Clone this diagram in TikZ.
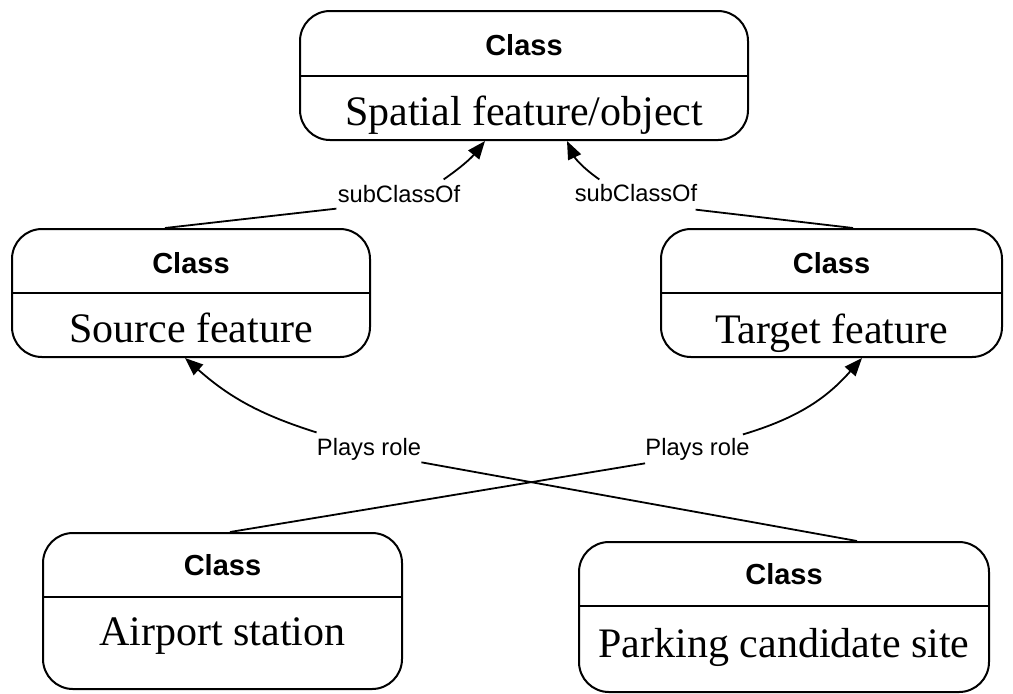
\documentclass[tikz,border=0pt]{standalone}
\usepackage{fontspec}
\setmainfont{Liberation Serif}
\setsansfont{Liberation Sans}
\usetikzlibrary{positioning,arrows.meta}

\begin{document}
\begin{tikzpicture}[x=0.5pt,y=-0.5pt,>={Triangle[length=9pt,width=7pt]},
  cbox/.style={draw,line width=1pt,rounded corners=15pt,inner sep=0pt},
  head/.style={font=\sffamily\bfseries\fontsize{14.5}{17}\selectfont,anchor=base,inner sep=0pt},
  body/.style={font=\fontsize{21}{25}\selectfont,anchor=base,inner sep=0pt},
  lbl/.style={font=\sffamily\fontsize{11.85}{14}\selectfont,anchor=base,inner sep=0pt},
  link/.style={line width=0.9pt}]
\useasboundingbox (0,0) rectangle (1013,693);
% class boxes
\node[cbox,minimum width=224pt,minimum height=64.5pt] (spatial) at (524,75.5) {};
\draw[line width=1pt] (spatial.west) -- (spatial.east);
\node[head] (spatialhd) at (524,55) {Class};
\node[body] (spatialtx) at (524,125) {Spatial feature/object};

\node[cbox,minimum width=179pt,minimum height=64pt] (source) at (191,293) {};
\draw[line width=1pt] (source.west) -- (source.east);
\node[head] (sourcehd) at (191,273) {Class};
\node[body] (sourcetx) at (191,342) {Source feature};

\node[cbox,minimum width=170.5pt,minimum height=64pt] (target) at (831.5,293) {};
\draw[line width=1pt] (target.west) -- (target.east);
\node[head] (targethd) at (831.5,273) {Class};
\node[body] (targettx) at (831.5,343) {Target feature};

\node[cbox,minimum width=179.5pt,minimum height=78pt] (airport) at (222.5,611) {};
\draw[line width=1pt] ([yshift=7pt]airport.west) -- ([yshift=7pt]airport.east);
\node[head] (airporthd) at (222.5,575) {Class};
\node[body] (airporttx) at (222.5,645) {Airport station};

\node[cbox,minimum width=205pt,minimum height=75pt] (parking) at (784,617) {};
\draw[line width=1pt] ([yshift=5.5pt]parking.west) -- ([yshift=5.5pt]parking.east);
\node[head] (parkinghd) at (784,584) {Class};
\node[body] (parkingtx) at (784,657) {Parking candidate site};

% connector labels
\node[lbl] (subL) at (399,202) {subClassOf};
\node[lbl] (subR) at (636,201) {subClassOf};
\node[lbl] (roleL) at (369,455) {Plays role};
\node[lbl] (roleR) at (697.5,455) {Plays role};

% subClassOf
\draw[link] ([xshift=-13pt]source.north) -- ([xshift=-0.5pt,yshift=-3pt]subL.south west);
\draw[link,->] ([xshift=-8.5pt,yshift=2.5pt]subL.north east) to[bend right=8] ([xshift=-19.5pt]spatial.south);
\draw[link] ([xshift=10.75pt]target.north) -- ([xshift=-1pt,yshift=-4pt]subR.south east);
\draw[link,->] ([xshift=12.5pt,yshift=2pt]subR.north west) to[bend left=15] ([xshift=21.5pt]spatial.south);

% Plays role
\draw[link] ([xshift=36.5pt]parking.north) -- ([yshift=-1pt]roleL.south east);
\draw[link,->] ([yshift=2.5pt]roleL.north west) to[bend left=12] ([xshift=-3pt]source.south);
\draw[link] ([xshift=3.75pt]airport.north) -- ([yshift=-1.5pt]roleR.south west);
\draw[link,->] ([xshift=-3.5pt,yshift=1.5pt]roleR.north east) to[bend right=16] ([xshift=15.25pt]target.south);
\end{tikzpicture}
\end{document}
